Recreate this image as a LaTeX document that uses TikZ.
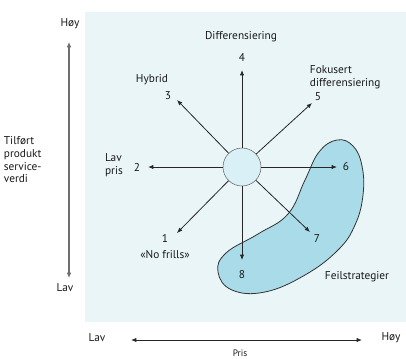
\documentclass[tikz,border=0pt]{standalone}
\usepackage{fontspec}
\setmainfont{PT Sans}
\usepackage{xcolor}
\usetikzlibrary{arrows.meta}
\definecolor{panelbg}{HTML}{EAF5F8}
\definecolor{blobfill}{HTML}{A9DCE8}
\definecolor{hubfill}{HTML}{D8F0F6}
\definecolor{axisgrey}{HTML}{6E6E6E}

\begin{document}
\begin{tikzpicture}[x=0.75pt,y=-0.75pt,font=\fontsize{8.5}{9.5}\selectfont,
  arr/.style={-{Latex[length=4pt,width=3.2pt]},line width=0.6pt,black!85},
  lbl/.style={inner sep=0.5pt,text=black!90}]
  \useasboundingbox (0,0) rectangle (406,358);
  % panel and failure area
  \fill[panelbg] (85,12) rectangle (406,322);
  \draw[black!80,fill=blobfill,line width=0.6pt] plot[smooth cycle,tension=0.7] coordinates {
    (337,140) (353,146) (362,166) (363,195) (355,225) (338,250) (305,275)
    (265,292) (232,290) (218,272) (226,253) (258,234) (288,214) (305,180) (319,152)};
  \node[lbl] (feil) at (357,277) {Feilstrategier};
  % hub and the eight directions
  \node[circle,draw=black!60,fill=hubfill,minimum size=38pt*0.75,inner sep=0pt] (hub) at (242,167) {};
  \foreach \n/\tx/\ty/\nx/\ny in {%
    1/177/233/165/238,
    2/148/167/137/167,
    3/177/100/168/96,
    4/242/70/242/57,
    5/312/103/318/97,
    6/337/167/346/167,
    7/310/232/317/239,
    8/242/260/242/275}{
      \coordinate (t\n) at (\tx,\ty);
      \draw[arr] (hub) -- (t\n);
      \node[lbl] (n\n) at (\nx,\ny) {\n};
  }
  \node[lbl] (diff) at (241,37) {Differensiering};
  \node[lbl] (hyb) at (152,80) {Hybrid};
  \node[lbl,align=left,anchor=west] (fok) at (309,77) {Fokusert\\differensiering};
  \node[lbl,align=left] (lavpris) at (114,165) {Lav\\pris};
  \node[lbl] (nofr) at (165,255) {«No frills»};
  % axes
  \coordinate (ytop) at (69,42);
  \coordinate (ybot) at (69,278);
  \draw[{Latex[length=4pt,width=3.5pt]}-{Latex[length=4pt,width=3.5pt]},axisgrey,line width=1.3pt] (ybot) -- (ytop);
  \node[lbl] (yhi) at (70,24) {Høy};
  \node[lbl] (ylo) at (65,288) {Lav};
  \node[lbl,align=left,anchor=west] (ytxt) at (3,160) {Tilført\\produkt\\service-\\verdi};
  \coordinate (xlft) at (131,340);
  \coordinate (xrgt) at (362,340);
  \draw[{Latex[length=4pt,width=3.2pt]}-{Latex[length=4pt,width=3.2pt]},black!85,line width=0.6pt] (xlft) -- (xrgt);
  \node[lbl] (xlo) at (97,338) {Lav};
  \node[lbl] (xhi) at (391,338) {Høy};
  \node[lbl,font=\fontsize{7}{8}\selectfont] (xtxt) at (240,353) {Pris};
\end{tikzpicture}
\end{document}
